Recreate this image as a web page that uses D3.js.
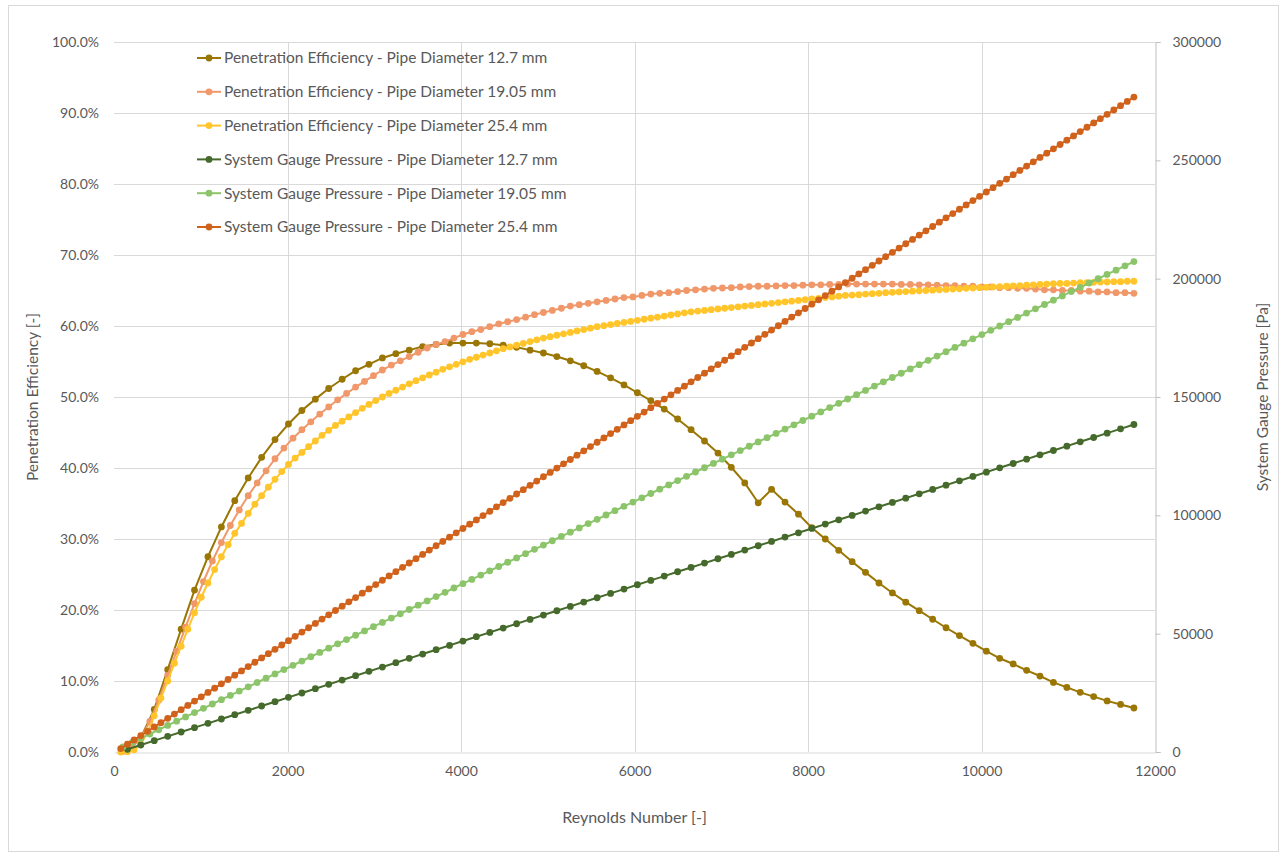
<!doctype html>
<html>
<head>
<meta charset="utf-8">
<title>Penetration Efficiency and System Gauge Pressure vs Reynolds Number</title>
<script src="https://d3js.org/d3.v7.min.js"></script>
<style>
  body { margin: 0; background: #fff; }
  svg text { font-family: Lato, "Open Sans", sans-serif; fill: #595959; }
  .grid line { stroke: #d9d9d9; stroke-width: 1; }
</style>
</head>
<body>
<script>
// Reynolds numbers for each pipe diameter
var re127 = [155, 309, 464, 619, 774, 928, 1083, 1238, 1392, 1547,
  1702, 1856, 2011, 2166, 2321, 2475, 2630, 2785, 2939, 3094,
  3249, 3403, 3558, 3713, 3868, 4022, 4177, 4332, 4486, 4641,
  4796, 4950, 5105, 5260, 5415, 5569, 5724, 5879, 6033, 6188,
  6343, 6497, 6652, 6807, 6962, 7116, 7271, 7426, 7580, 7735,
  7890, 8044, 8199, 8354, 8509, 8663, 8818, 8973, 9127, 9282,
  9437, 9591, 9746, 9901, 10056, 10210, 10365, 10520, 10674, 10829,
  10984, 11138, 11293, 11448, 11603, 11757];

var re1905 = [103, 206, 309, 413, 516, 619, 722, 825, 928, 1031,
  1134, 1238, 1341, 1444, 1547, 1650, 1753, 1856, 1959, 2063,
  2166, 2269, 2372, 2475, 2578, 2681, 2785, 2888, 2991, 3094,
  3197, 3300, 3403, 3506, 3610, 3713, 3816, 3919, 4022, 4125,
  4228, 4331, 4435, 4538, 4641, 4744, 4847, 4950, 5053, 5157,
  5260, 5363, 5466, 5569, 5672, 5775, 5878, 5982, 6085, 6188,
  6291, 6394, 6497, 6600, 6703, 6807, 6910, 7013, 7116, 7219,
  7322, 7425, 7528, 7632, 7735, 7838, 7941, 8044, 8147, 8250,
  8354, 8457, 8560, 8663, 8766, 8869, 8972, 9075, 9179, 9282,
  9385, 9488, 9591, 9694, 9797, 9900, 10004, 10107, 10210, 10313,
  10416, 10519, 10622, 10726, 10829, 10932, 11035, 11138, 11241, 11344,
  11447, 11551, 11654, 11757];

var re254 = [77, 155, 232, 309, 387, 464, 541, 619, 696, 774,
  851, 928, 1006, 1083, 1160, 1238, 1315, 1392, 1470, 1547,
  1624, 1702, 1779, 1856, 1934, 2011, 2088, 2166, 2243, 2321,
  2398, 2475, 2553, 2630, 2707, 2785, 2862, 2939, 3017, 3094,
  3171, 3249, 3326, 3403, 3481, 3558, 3635, 3713, 3790, 3868,
  3945, 4022, 4100, 4177, 4254, 4332, 4409, 4486, 4564, 4641,
  4718, 4796, 4873, 4950, 5028, 5105, 5182, 5260, 5337, 5415,
  5492, 5569, 5647, 5724, 5801, 5879, 5956, 6033, 6111, 6188,
  6265, 6343, 6420, 6497, 6575, 6652, 6729, 6807, 6884, 6962,
  7039, 7116, 7194, 7271, 7348, 7426, 7503, 7580, 7658, 7735,
  7812, 7890, 7967, 8044, 8122, 8199, 8276, 8354, 8431, 8509,
  8586, 8663, 8741, 8818, 8895, 8973, 9050, 9127, 9205, 9282,
  9359, 9437, 9514, 9591, 9669, 9746, 9823, 9901, 9978, 10056,
  10133, 10210, 10288, 10365, 10442, 10520, 10597, 10674, 10752, 10829,
  10906, 10984, 11061, 11138, 11216, 11293, 11370, 11448, 11525, 11603,
  11680, 11757];

// penetration efficiency in %
var pe127 = [0.3, 2.0, 6.0, 11.6, 17.3, 22.8, 27.5, 31.7, 35.4, 38.6,
  41.5, 44.0, 46.2, 48.1, 49.7, 51.2, 52.5, 53.7, 54.6, 55.5,
  56.1, 56.6, 57.1, 57.4, 57.6, 57.6, 57.6, 57.5, 57.3, 57.0,
  56.6, 56.2, 55.7, 55.1, 54.4, 53.6, 52.7, 51.7, 50.6, 49.5,
  48.3, 46.9, 45.4, 43.8, 42.1, 40.1, 37.9, 35.1, 37.0, 35.2,
  33.5, 31.6, 30.0, 28.4, 26.8, 25.3, 23.8, 22.4, 21.1, 19.9,
  18.7, 17.5, 16.4, 15.3, 14.2, 13.2, 12.4, 11.5, 10.7, 9.8,
  9.1, 8.4, 7.8, 7.2, 6.7, 6.2];

var pe1905 = [0.1, 0.6, 2.0, 4.3, 7.3, 10.8, 14.2, 17.6, 20.9, 24.0,
  26.9, 29.5, 31.9, 34.1, 36.1, 37.9, 39.6, 41.3, 42.8, 44.2,
  45.4, 46.5, 47.6, 48.6, 49.6, 50.5, 51.4, 52.2, 53.0, 53.8,
  54.5, 55.1, 55.7, 56.3, 56.9, 57.4, 57.8, 58.3, 58.8, 59.2,
  59.5, 59.9, 60.3, 60.6, 60.9, 61.25, 61.6, 61.9, 62.2, 62.5,
  62.8, 63.0, 63.2, 63.4, 63.6, 63.8, 64.0, 64.1, 64.3, 64.5,
  64.6, 64.7, 64.85, 65.0, 65.1, 65.2, 65.3, 65.35, 65.4, 65.5,
  65.55, 65.6, 65.6, 65.65, 65.7, 65.7, 65.75, 65.8, 65.8, 65.85,
  65.85, 65.9, 65.9, 65.9, 65.9, 65.9, 65.9, 65.85, 65.85, 65.8,
  65.8, 65.75, 65.7, 65.7, 65.6, 65.6, 65.5, 65.5, 65.4, 65.4,
  65.3, 65.3, 65.2, 65.1, 65.1, 65.0, 65.0, 64.9, 64.9, 64.8,
  64.8, 64.7, 64.7, 64.6];

var pe254 = [0.0, 0.05, 0.3, 1.1, 2.8, 5.1, 7.6, 10.0, 12.5, 14.9,
  17.3, 19.6, 21.8, 23.8, 25.7, 27.5, 29.2, 30.8, 32.2, 33.6,
  34.9, 36.1, 37.3, 38.4, 39.5, 40.5, 41.4, 42.2, 43.0, 43.8,
  44.6, 45.3, 46.0, 46.6, 47.2, 47.8, 48.4, 48.95, 49.5, 50.0,
  50.5, 50.95, 51.4, 51.85, 52.3, 52.7, 53.1, 53.5, 53.9, 54.25,
  54.6, 54.95, 55.3, 55.6, 55.9, 56.2, 56.5, 56.8, 57.05, 57.3,
  57.55, 57.8, 58.05, 58.3, 58.5, 58.7, 58.9, 59.1, 59.3, 59.5,
  59.7, 59.9, 60.05, 60.2, 60.35, 60.5, 60.65, 60.8, 60.95, 61.1,
  61.25, 61.4, 61.55, 61.7, 61.85, 62.0, 62.1, 62.2, 62.3, 62.4,
  62.5, 62.6, 62.7, 62.8, 62.9, 63.0, 63.1, 63.2, 63.3, 63.4,
  63.5, 63.6, 63.7, 63.8, 63.9, 64.0, 64.1, 64.2, 64.3, 64.35,
  64.4, 64.5, 64.55, 64.6, 64.7, 64.75, 64.8, 64.85, 64.9, 64.95,
  65.0, 65.05, 65.1, 65.15, 65.2, 65.25, 65.3, 65.35, 65.4, 65.45,
  65.5, 65.55, 65.6, 65.65, 65.7, 65.75, 65.8, 65.85, 65.9, 65.95,
  66.0, 66.0, 66.05, 66.1, 66.1, 66.15, 66.2, 66.2, 66.25, 66.25,
  66.3, 66.3];

// system gauge pressure in Pa
var sgp127 = [1130, 2960, 4790, 6620, 8450, 10280, 12110, 13940, 15770, 17600,
  19430, 21260, 23090, 24920, 26750, 28580, 30410, 32240, 34070, 35900,
  37730, 39560, 41390, 43220, 45050, 46880, 48710, 50540, 52370, 54200,
  56030, 57860, 59690, 61520, 63350, 65180, 67010, 68840, 70670, 72500,
  74330, 76160, 77990, 79820, 81650, 83480, 85310, 87140, 88970, 90800,
  92630, 94460, 96290, 98120, 99950, 101780, 103610, 105440, 107270, 109100,
  110930, 112760, 114590, 116420, 118250, 120080, 121910, 123740, 125570, 127400,
  129230, 131060, 132890, 134720, 136550, 138380];

var sgp1905 = [2140, 3950, 5770, 7580, 9400, 11210, 13030, 14840, 16660, 18470,
  20290, 22100, 23920, 25730, 27550, 29360, 31180, 32990, 34810, 36620,
  38440, 40250, 42070, 43880, 45700, 47510, 49330, 51140, 52960, 54770,
  56590, 58400, 60220, 62030, 63850, 65660, 67480, 69290, 71110, 72920,
  74740, 76550, 78370, 80180, 82000, 83810, 85630, 87440, 89260, 91070,
  92890, 94700, 96520, 98330, 100150, 101960, 103780, 105590, 107410, 109220,
  111040, 112850, 114670, 116480, 118300, 120110, 121930, 123740, 125560, 127370,
  129190, 131000, 132820, 134630, 136450, 138260, 140080, 141890, 143710, 145520,
  147340, 149150, 150970, 152780, 154600, 156410, 158230, 160040, 161860, 163670,
  165490, 167300, 169120, 170930, 172750, 174560, 176380, 178190, 180010, 181820,
  183640, 185450, 187270, 189080, 190900, 192710, 194530, 196340, 198160, 199970,
  201790, 203600, 205420, 207230];

var sgp254 = [1460, 3280, 5100, 6930, 8750, 10570, 12400, 14220, 16040, 17870,
  19690, 21510, 23330, 25160, 26980, 28800, 30630, 32450, 34270, 36100,
  37920, 39740, 41560, 43390, 45210, 47030, 48860, 50680, 52500, 54330,
  56150, 57970, 59790, 61620, 63440, 65260, 67090, 68910, 70730, 72560,
  74380, 76200, 78020, 79850, 81670, 83490, 85320, 87140, 88960, 90790,
  92610, 94430, 96250, 98080, 99900, 101720, 103550, 105370, 107190, 109020,
  110840, 112660, 114480, 116310, 118130, 119950, 121780, 123600, 125420, 127250,
  129070, 130890, 132710, 134540, 136360, 138180, 140010, 141830, 143650, 145480,
  147300, 149120, 150940, 152770, 154590, 156410, 158240, 160060, 161880, 163710,
  165530, 167350, 169170, 171000, 172820, 174640, 176470, 178290, 180110, 181940,
  183760, 185580, 187400, 189230, 191050, 192870, 194700, 196520, 198340, 200170,
  201990, 203810, 205630, 207460, 209280, 211100, 212930, 214750, 216570, 218400,
  220220, 222040, 223860, 225690, 227510, 229330, 231160, 232980, 234800, 236630,
  238450, 240270, 242090, 243920, 245740, 247560, 249390, 251210, 253030, 254860,
  256680, 258500, 260320, 262150, 263970, 265790, 267620, 269440, 271260, 273090,
  274910, 276730];

var xTicks = [0, 2000, 4000, 6000, 8000, 10000, 12000];
var leftTicks = [0, 10, 20, 30, 40, 50, 60, 70, 80, 90, 100];
var rightTicks = [0, 50000, 100000, 150000, 200000, 250000, 300000];

var seriesNames = [
  "Penetration Efficiency - Pipe Diameter 12.7 mm",
  "Penetration Efficiency - Pipe Diameter 19.05 mm",
  "Penetration Efficiency - Pipe Diameter 25.4 mm",
  "System Gauge Pressure - Pipe Diameter 12.7 mm",
  "System Gauge Pressure - Pipe Diameter 19.05 mm",
  "System Gauge Pressure - Pipe Diameter 25.4 mm"];
var seriesColors = ["#9a7604", "#f0986a", "#ffc52a", "#456a2b", "#8cc46a", "#d1621c"];

var series = [
  {name: seriesNames[0], xs: re127, ys: pe127, axis: "left", color: seriesColors[0]},
  {name: seriesNames[1], xs: re1905, ys: pe1905, axis: "left", color: seriesColors[1]},
  {name: seriesNames[2], xs: re254, ys: pe254, axis: "left", color: seriesColors[2]},
  {name: seriesNames[3], xs: re127, ys: sgp127, axis: "right", color: seriesColors[3]},
  {name: seriesNames[4], xs: re1905, ys: sgp1905, axis: "right", color: seriesColors[4]},
  {name: seriesNames[5], xs: re254, ys: sgp254, axis: "right", color: seriesColors[5]}
];

var W = 1287, H = 858;
var plotL = 114, plotR = 1155, plotT = 42, plotB = 752;
var dotR = 3.4;

var svg = d3.select("body").append("svg").attr("width", W).attr("height", H);

svg.append("rect")
  .attr("x", 8.5).attr("y", 5.5).attr("width", 1270).attr("height", 846)
  .attr("fill", "#fff").attr("stroke", "#d9d9d9");

var x = d3.scaleLinear().domain([0, 12000]).range([plotL, plotR]);
var yL = d3.scaleLinear().domain([0, 100]).range([plotB, plotT]);
var yR = d3.scaleLinear().domain([0, 300000]).range([plotB, plotT]);

// gridlines
var grid = svg.append("g").attr("class", "grid");
grid.selectAll("line.h").data(leftTicks.slice(1)).enter().append("line")
  .attr("x1", plotL).attr("x2", plotR)
  .attr("y1", function(d) { return Math.round(yL(d)) + 0.5; })
  .attr("y2", function(d) { return Math.round(yL(d)) + 0.5; });
grid.selectAll("line.v").data(xTicks.slice(1, -1)).enter().append("line")
  .attr("y1", plotT).attr("y2", plotB)
  .attr("x1", function(d) { return Math.round(x(d)) + 0.5; })
  .attr("x2", function(d) { return Math.round(x(d)) + 0.5; });

// axes
var xAxis = svg.append("g").attr("transform", "translate(0," + (plotB + 0.5) + ")")
  .call(d3.axisBottom(x).tickValues(xTicks).tickSize(0).tickPadding(14).tickFormat(d3.format("d")));
xAxis.select(".domain").attr("stroke", "#d9d9d9");

var lAxis = svg.append("g").attr("transform", "translate(" + plotL + ",0)")
  .call(d3.axisLeft(yL).tickValues(leftTicks).tickSize(0).tickPadding(15)
    .tickFormat(function(d) { return d.toFixed(1) + "%"; }));
lAxis.select(".domain").remove();

var rAxis = svg.append("g").attr("transform", "translate(" + (plotR + 0.5) + ",0)")
  .call(d3.axisRight(yR).tickValues(rightTicks).tickSize(5).tickPadding(12).tickFormat(d3.format("d")));
rAxis.select(".domain").attr("stroke", "#bfbfbf");
rAxis.selectAll(".tick line").attr("stroke", "#bfbfbf");

svg.selectAll(".tick text").attr("font-size", 14).attr("fill", "#595959")
  .attr("font-family", "Lato, 'Open Sans', sans-serif");

// axis titles
svg.append("text").attr("x", (plotL + plotR) / 2).attr("y", 823)
  .attr("text-anchor", "middle").attr("font-size", 16).text("Reynolds Number [-]");
svg.append("text").attr("transform", "translate(38," + (plotT + plotB) / 2 + ") rotate(-90)")
  .attr("text-anchor", "middle").attr("font-size", 15.5).text("Penetration Efficiency [-]");
svg.append("text").attr("transform", "translate(1268," + (plotT + plotB) / 2 + ") rotate(-90)")
  .attr("text-anchor", "middle").attr("font-size", 15.5).text("System Gauge Pressure [Pa]");

// series
series.forEach(function(s, si) {
  var yScale = s.axis === "left" ? yL : yR;
  var pts = s.xs.map(function(v, i) { return [v, s.ys[i]]; });
  var line = d3.line()
    .x(function(d) { return x(d[0]); })
    .y(function(d) { return yScale(d[1]); });
  var g = svg.append("g").attr("class", "series" + si);
  g.append("path").attr("d", line(pts))
    .attr("fill", "none").attr("stroke", s.color).attr("stroke-width", 2);
  g.selectAll("circle").data(pts).enter().append("circle")
    .attr("cx", function(d) { return x(d[0]); })
    .attr("cy", function(d) { return yScale(d[1]); })
    .attr("r", dotR)
    .attr("fill", s.color);
});

// legend
var legend = svg.append("g").attr("transform", "translate(197,58)");
series.forEach(function(s, i) {
  var row = legend.append("g").attr("transform", "translate(0," + (i * 33.8) + ")");
  row.append("line").attr("x1", 0).attr("x2", 24).attr("y1", 0).attr("y2", 0)
    .attr("stroke", s.color).attr("stroke-width", 2);
  row.append("circle").attr("cx", 12).attr("cy", 0).attr("r", dotR).attr("fill", s.color);
  row.append("text").attr("x", 27).attr("y", 0).attr("dy", "0.35em")
    .attr("font-size", 15.5).text(s.name);
});
</script>
</body>
</html>
